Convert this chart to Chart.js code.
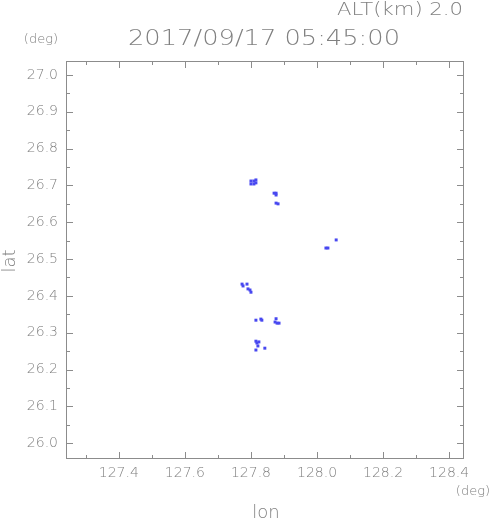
<!DOCTYPE html>
<html>
<head>
<meta charset="utf-8">
<script src="https://cdn.jsdelivr.net/npm/chart.js@4/dist/chart.umd.min.js"></script>
<style>
  html, body { margin: 0; padding: 0; background: #fff; }
  #wrap { width: 491px; height: 521px; }
</style>
</head>
<body>
<div id="wrap"><canvas id="echoChart" width="491" height="521"></canvas></div>
<script>
// ---------------------------------------------------------------------
// Data
// ---------------------------------------------------------------------
const TITLE = "2017/09/17 05:45:00";
const ALT_LABEL = "ALT(km) 2.0";

const lonTicks = [127.4, 127.6, 127.8, 128.0, 128.2, 128.4];
const latTicks = [26.0, 26.1, 26.2, 26.3, 26.4, 26.5, 26.6, 26.7, 26.8, 26.9, 27.0];

// echo cells
const echoLon = [
  127.800, 127.809, 127.800, 127.809, 127.815, 127.815,
  127.876, 127.876, 127.870,
  127.876, 127.882,
  128.058,
  128.027, 128.033,
  127.773, 127.776, 127.788,
  127.791, 127.797, 127.800,
  127.830, 127.833, 127.815,
  127.876, 127.879, 127.885, 127.873,
  127.815, 127.824, 127.818, 127.821, 127.842, 127.815,
];
const echoLat = [
  26.712, 26.712, 26.704, 26.704, 26.707, 26.715,
  26.679, 26.674, 26.679,
  26.652, 26.650,
  26.552,
  26.530, 26.530,
  26.432, 26.427, 26.432,
  26.419, 26.416, 26.410,
  26.337, 26.334, 26.334,
  26.338, 26.326, 26.326, 26.329,
  26.277, 26.275, 26.272, 26.264, 26.258, 26.253,
];

// ---------------------------------------------------------------------
// Styling
// ---------------------------------------------------------------------
const TEXT_COLOR = "#808080";
const FRAME_COLOR = "#8c8c8c";
const ECHO_COLOR = "#4848f0";
const FONT = "DejaVu Sans";
const WEIGHT = 200; // thin strokes like the original plot font

// text stretched horizontally to a given width (the original uses a wide stroke font)
function fitText(ctx, text, cx, cy, width, size) {
  ctx.save();
  ctx.font = `${WEIGHT} ${size}px "${FONT}"`;
  const w = ctx.measureText(text).width;
  ctx.translate(cx, cy);
  ctx.scale(width / w, 1);
  ctx.textAlign = "center";
  ctx.textBaseline = "middle";
  ctx.fillText(text, 0, 0);
  ctx.restore();
}

// frame, inward tick marks (major + minor) and the annotation texts
const framePlugin = {
  id: "frame",
  afterDraw(chart) {
    const { ctx, chartArea: a, scales } = chart;
    const xs = scales.x, ys = scales.y;
    ctx.save();
    ctx.strokeStyle = FRAME_COLOR;
    ctx.lineWidth = 1;
    ctx.strokeRect(a.left + 0.5, a.top + 0.5, a.right - a.left - 1, a.bottom - a.top - 1);

    ctx.beginPath();
    for (let i = 0; i <= 12; i++) {
      const v = 127.3 + i * 0.1;
      if (v < xs.min || v > xs.max) continue;
      const px = Math.round(xs.getPixelForValue(v)) + 0.5;
      const major = lonTicks.some((t) => Math.abs(t - v) < 1e-6);
      const len = major ? 7 : 4;
      ctx.moveTo(px, a.bottom);
      ctx.lineTo(px, a.bottom - len);
      ctx.moveTo(px, a.top);
      ctx.lineTo(px, a.top + len);
    }
    for (let i = 0; i <= 21; i++) {
      const v = 26.0 + i * 0.05;
      if (v < ys.min || v > ys.max) continue;
      const py = Math.round(ys.getPixelForValue(v)) + 0.5;
      const major = latTicks.some((t) => Math.abs(t - v) < 1e-6);
      const len = major ? 7 : 4;
      ctx.moveTo(a.left, py);
      ctx.lineTo(a.left + len, py);
      ctx.moveTo(a.right, py);
      ctx.lineTo(a.right - len, py);
    }
    ctx.stroke();

    ctx.fillStyle = TEXT_COLOR;
    const cx = (a.left + a.right) / 2;
    fitText(ctx, TITLE, cx - 1, 40, 272, 21);
    fitText(ctx, ALT_LABEL, 400, 10, 126, 18);

    ctx.font = `${WEIGHT} 13px "${FONT}"`;
    ctx.textAlign = "right";
    ctx.textBaseline = "middle";
    ctx.fillText("(deg)", 58, 40);
    ctx.fillText("(deg)", 490, 492);

    ctx.font = `${WEIGHT} 18px "${FONT}"`;
    ctx.textAlign = "center";
    ctx.fillText("lon", cx + 1, 513);
    ctx.save();
    ctx.translate(10, 261);
    ctx.rotate(-Math.PI / 2);
    ctx.fillText("lat", 0, 0);
    ctx.restore();
    ctx.restore();
  },
};

// ---------------------------------------------------------------------
// Chart
// ---------------------------------------------------------------------
const points = echoLon.map((lon, i) => ({ x: lon, y: echoLat[i] }));

new Chart(document.getElementById("echoChart"), {
  type: "scatter",
  data: {
    datasets: [
      {
        data: points,
        pointStyle: "rect",
        pointRadius: 2.1,
        borderWidth: 0,
        backgroundColor: ECHO_COLOR,
        borderColor: ECHO_COLOR,
      },
    ],
  },
  options: {
    responsive: false,
    animation: false,
    devicePixelRatio: 1,
    layout: { padding: { top: 61, right: 27, left: 0, bottom: 0 } },
    plugins: { legend: { display: false }, tooltip: { enabled: false } },
    scales: {
      x: {
        type: "linear",
        min: 127.24,
        max: 128.445,
        afterBuildTicks: (s) => { s.ticks = lonTicks.map((v) => ({ value: v })); },
        afterFit: (s) => { s.height = 62; },
        grid: { display: false, drawTicks: false },
        border: { display: false },
        ticks: {
          color: TEXT_COLOR,
          padding: 6,
          maxRotation: 0,
          autoSkip: false,
          font: { family: FONT, size: 14, weight: WEIGHT },
          callback: (v) => Number(v).toFixed(1),
        },
      },
      y: {
        type: "linear",
        min: 25.957,
        max: 27.038,
        afterBuildTicks: (s) => { s.ticks = latTicks.map((v) => ({ value: v })); },
        afterFit: (s) => { s.width = 66; },
        grid: { display: false, drawTicks: false },
        border: { display: false },
        ticks: {
          color: TEXT_COLOR,
          padding: 8,
          autoSkip: false,
          font: { family: FONT, size: 14, weight: WEIGHT },
          callback: (v) => Number(v).toFixed(1),
        },
      },
    },
  },
  plugins: [framePlugin],
});
</script>
</body>
</html>
